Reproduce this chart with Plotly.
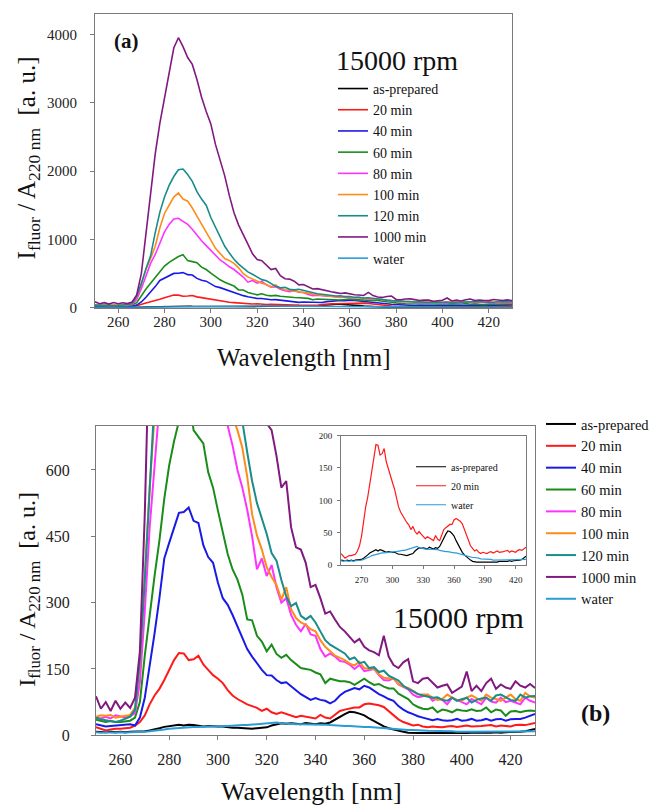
import plotly.graph_objects as go

# wavelength grid (nm), 2 nm step
wavelength = list(range(250, 431, 2))

as_prepared = [8, 7, 7, 8, 7, 8, 7, 8, 8, 8,
               9, 11, 13, 16, 19, 21, 23, 24, 22, 24,
               23, 21, 20, 21, 20, 20, 20, 18, 17, 17,
               16, 16, 15, 16, 17, 18, 22, 25, 27, 26,
               27, 26, 25, 28, 26, 25, 27, 26, 29, 36,
               43, 48, 53, 52, 49, 45, 38, 32, 25, 20,
               16, 13, 10, 8, 6, 5, 5, 5, 5, 4,
               5, 4, 5, 5, 4, 5, 5, 6, 6, 5,
               6, 6, 7, 6, 7, 7, 8, 8, 9, 11,
               14]
min_20 = [18, 14, 11, 13, 15, 15, 16, 17, 22, 30,
          45, 70, 90, 105, 125, 148, 170, 186, 185, 170,
          172, 180, 160, 148, 136, 128, 118, 102, 90, 82,
          76, 70, 66, 62, 55, 60, 52, 48, 52, 48,
          44, 41, 44, 42, 40, 38, 46, 40, 38, 46,
          55, 58, 60, 63, 63, 70, 72, 70, 68, 64,
          55, 47, 36, 30, 26, 22, 24, 20, 18, 20,
          19, 18, 20, 21, 19, 20, 22, 20, 20, 21,
          22, 23, 20, 22, 21, 20, 23, 24, 23, 25,
          28]
min_40 = [25, 22, 20, 21, 22, 22, 24, 25, 22, 40,
          85, 155, 230, 310, 400, 435, 470, 503, 505, 515,
          485, 480, 430, 403, 390, 345, 310, 295, 272, 245,
          222, 195, 178, 162, 148, 136, 135, 125, 118, 120,
          110, 102, 93, 86, 80, 84, 80, 78, 72, 78,
          90, 98, 102, 107, 104, 112, 108, 100, 93, 88,
          82, 78, 66, 58, 52, 48, 43, 40, 37, 34,
          37, 34, 33, 34, 37, 33, 34, 37, 33, 34,
          37, 33, 36, 37, 33, 36, 37, 37, 40, 44,
          48]
min_60 = [35, 33, 30, 32, 30, 30, 31, 33, 40, 75,
          180, 275, 360, 440, 535, 610, 665, 710, 750, 775,
          690, 675, 660, 595, 560, 508, 455, 410, 375, 352,
          318, 262, 260, 225, 212, 190, 205, 184, 175, 182,
          170, 160, 152, 150, 148, 142, 138, 118, 128, 125,
          122, 122, 120, 114, 122, 128, 120, 114, 116, 110,
          106, 106, 94, 88, 82, 70, 64, 60, 59, 63,
          52, 58, 56, 52, 58, 56, 55, 59, 55, 56,
          63, 52, 58, 56, 44, 54, 55, 52, 55, 56,
          55]
min_80 = [40, 38, 42, 38, 45, 42, 40, 43, 50, 120,
          280, 470, 650, 780, 960, 1110, 1220, 1300, 1310, 1260,
          1220, 1150, 1060, 980, 910, 840, 760, 700, 655, 600,
          560, 510, 450, 375, 400, 360, 385, 335, 300, 310,
          272, 250, 235, 252, 228, 225, 195, 178, 185, 178,
          168, 166, 160, 150, 159, 145, 148, 150, 136, 125,
          124, 129, 115, 110, 104, 92, 86, 88, 92, 78,
          84, 80, 70, 85, 80, 75, 70, 82, 76, 70,
          85, 76, 74, 85, 75, 78, 74, 70, 85, 78,
          74]
min_100 = [42, 45, 44, 46, 40, 42, 45, 46, 62, 160,
           360, 560, 720, 900, 1170, 1380, 1500, 1620, 1680, 1590,
           1560, 1460, 1340, 1230, 1110, 990, 870, 800, 720, 690,
           650, 585, 500, 452, 420, 380, 358, 340, 307, 335,
           285, 265, 255, 250, 240, 235, 215, 200, 190, 180,
           175, 170, 162, 158, 166, 152, 150, 151, 138, 130,
           129, 128, 116, 110, 107, 100, 93, 92, 92, 85,
           80, 82, 92, 85, 80, 78, 85, 90, 84, 78,
           92, 85, 82, 78, 85, 92, 82, 78, 96, 88,
           85]
min_120 = [40, 36, 34, 32, 30, 33, 38, 42, 58, 170,
           350, 570, 760, 1100, 1400, 1620, 1790, 1920, 2020, 2030,
           1950, 1850, 1700, 1590, 1500, 1320, 1180, 1030, 900, 800,
           710, 640, 575, 525, 490, 455, 412, 395, 351, 314,
           292, 299, 270, 262, 270, 255, 235, 215, 205, 198,
           190, 185, 172, 176, 163, 166, 152, 154, 143, 146,
           135, 129, 124, 112, 105, 100, 93, 90, 88, 85,
           86, 80, 78, 85, 78, 82, 85, 74, 80, 83,
           85, 78, 90, 92, 85, 80, 78, 92, 85, 88,
           89]
min_1000 = [88, 60, 75, 55, 78, 60, 74, 62, 85, 190,
            500, 1100, 1700, 2250, 2700, 3050, 3400, 3800, 3950, 3820,
            3660, 3560, 3340, 3080, 2870, 2690, 2390, 2150, 1930, 1640,
            1390, 1210, 1060, 930, 790, 705, 690, 632, 560, 575,
            470, 425, 420, 390, 335, 340, 310, 275, 280, 262,
            245, 235, 222, 210, 218, 200, 192, 188, 181, 225,
            178, 159, 152, 165, 172, 122, 118, 128, 130, 120,
            108, 112, 115, 96, 104, 110, 144, 100, 112, 100,
            118, 128, 105, 115, 108, 105, 122, 112, 108, 116,
            107]
water = [7, 6, 7, 6, 6, 7, 6, 7, 7, 8,
         8, 9, 10, 12, 13, 15, 16, 17, 18, 18,
         19, 19, 20, 20, 20, 21, 21, 21, 22, 22,
         23, 23, 24, 25, 25, 26, 27, 29, 27, 26,
         26, 25, 25, 25, 25, 24, 24, 24, 23, 22,
         22, 21, 21, 20, 20, 19, 19, 18, 17, 16,
         15, 14, 14, 13, 12, 12, 12, 11, 10, 10,
         10, 9, 9, 9, 8, 8, 8, 8, 8, 8,
         8, 8, 8, 8, 8, 8, 8, 8, 8, 9,
         9]

labels = ["as-prepared", "20 min", "40 min", "60 min", "80 min",
          "100 min", "120 min", "1000 min", "water"]
series = [as_prepared, min_20, min_40, min_60, min_80,
          min_100, min_120, min_1000, water]
colors = ["#000000", "#ff1a1a", "#1a1ae6", "#1a8c1a", "#ff33ff",
          "#ff8c1a", "#1a8c8c", "#801a80", "#2a9cd8"]
inset_names = ["as-prepared", "20 min", "water"]

SERIF = "Liberation Serif, Times New Roman, serif"
W, H = 665, 809

fig = go.Figure()

# panel (a) and panel (b): all spectra
for name, color, vals in zip(labels, colors, series):
    fig.add_trace(go.Scatter(x=wavelength, y=vals, name=name, mode="lines",
                             line=dict(color=color, width=1.6),
                             xaxis="x", yaxis="y", legend="legend"))
    fig.add_trace(go.Scatter(x=wavelength, y=vals, name=name, mode="lines",
                             line=dict(color=color, width=2),
                             xaxis="x2", yaxis="y2", legend="legend2"))

# inset: low-intensity spectra only
for name, color, vals in zip(labels, colors, series):
    if name in inset_names:
        fig.add_trace(go.Scatter(x=wavelength, y=vals, name=name, mode="lines",
                                 line=dict(color=color, width=1.2),
                                 xaxis="x3", yaxis="y3", legend="legend3"))


def axis_style(size, **kw):
    d = dict(showline=True, mirror=True, linecolor="#7a7a7a", linewidth=1,
             ticks="outside", ticklen=4, tickcolor="#7a7a7a",
             showgrid=False, zeroline=False,
             tickfont=dict(family=SERIF, size=size, color="#222222"))
    d.update(kw)
    return d


def legend_style(x, y, size):
    return dict(x=x / W, y=1 - y / H, xanchor="left", yanchor="top",
                bgcolor="rgba(0,0,0,0)", tracegroupgap=0,
                font=dict(family=SERIF, size=size, color="#111111"))


fig.update_layout(
    width=W, height=H,
    margin=dict(l=0, r=0, t=0, b=0),
    font=dict(family=SERIF, color="#111111"),
    paper_bgcolor="white",
    plot_bgcolor="white",
    showlegend=True,
    xaxis=axis_style(15, domain=[87 / W, 504 / W], range=[250, 430],
                     tickvals=list(range(260, 421, 20)), anchor="y",
                     ticklabelstandoff=-4),
    yaxis=axis_style(15, domain=[1 - 300 / H, 0.999], range=[0, 4300],
                     tickvals=[0, 1000, 2000, 3000, 4000], anchor="x",
                     ticklabelstandoff=10),
    xaxis2=axis_style(16, domain=[88 / W, 527 / W], range=[250, 430],
                      tickvals=list(range(260, 421, 20)), anchor="y2",
                      ticklabelstandoff=6),
    yaxis2=axis_style(16, domain=[1 - 735 / H, 1 - 420 / H], range=[0, 700],
                      tickvals=[0, 150, 300, 450, 600], anchor="x2",
                      ticklabelstandoff=18),
    xaxis3=axis_style(9, domain=[333 / W, 518 / W], range=[250, 430],
                      tickvals=list(range(270, 421, 30)), anchor="y3",
                      ticklen=3, ticklabelstandoff=3),
    yaxis3=axis_style(9, domain=[1 - 562 / H, 1 - 430 / H], range=[0, 200],
                      tickvals=[0, 50, 100, 150, 200], anchor="x3",
                      ticklen=3, ticklabelstandoff=3),
    legend=legend_style(325, 61, 14),
    legend2=legend_style(533, 402, 14.5),
    legend3=legend_style(403, 447, 10),
)

ytitle = ("I<sub>fluor</sub> / A<sub>220 nm</sub>  [a. u.]")
annotations = [
    dict(text=ytitle, x=20, y=148, textangle=-90, size=25),
    dict(text=ytitle, x=21, y=587, textangle=-90, size=24),
    dict(text="Wavelength [nm]", x=296, y=351, size=25),
    dict(text="Wavelength [nm]", x=303, y=792, size=26),
    dict(text="15000 rpm", x=389, y=48, size=28),
    dict(text="15000 rpm", x=451, y=615, size=30),
    dict(text="<b>(a)</b>", x=118, y=29, size=21),
    dict(text="<b>(b)</b>", x=587, y=712, size=24),
]
for a in annotations:
    fig.add_annotation(text=a["text"], x=a["x"] / W, y=1 - a["y"] / H,
                       xref="paper", yref="paper", showarrow=False,
                       xanchor="center", yanchor="middle",
                       textangle=a.get("textangle", 0),
                       font=dict(family=SERIF, size=a["size"], color="#111111"))

fig.write_html("out.html")
